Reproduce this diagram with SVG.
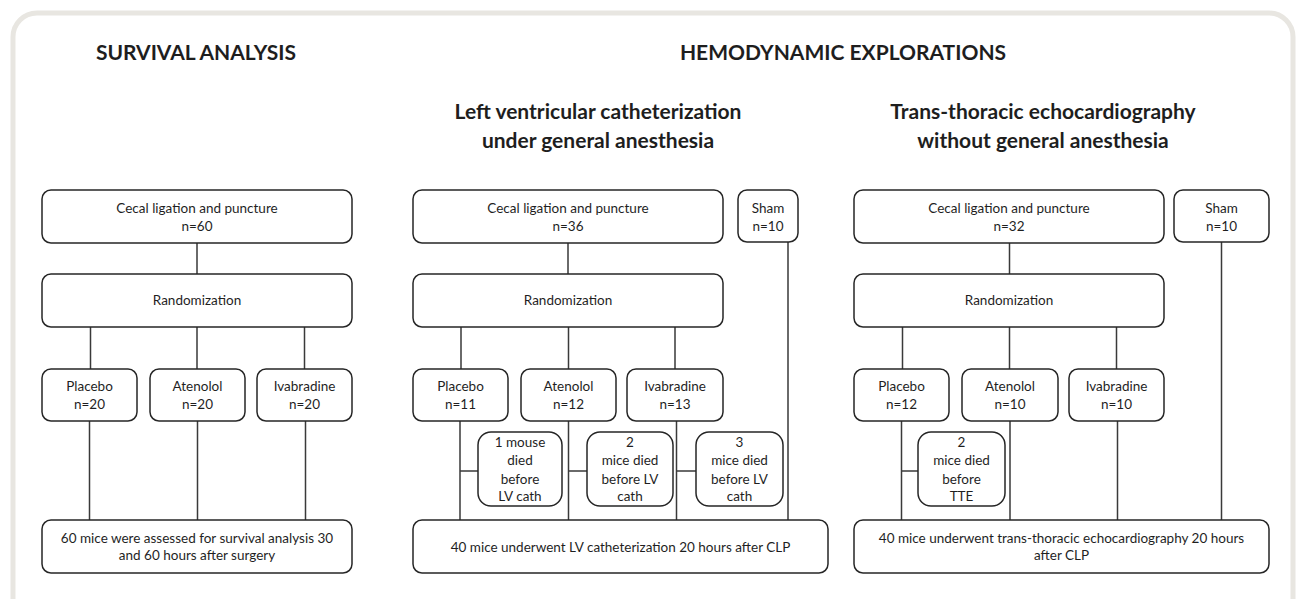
<svg xmlns="http://www.w3.org/2000/svg" width="1296" height="599" viewBox="0 0 1296 599">
<style>
.frame{fill:none;stroke:#e8e6e1;stroke-width:5}
.box{fill:#fff;stroke:#262626;stroke-width:1.5}
.ln{stroke:#3a3a3a;stroke-width:1.5;fill:none}
.t{font-family:Lato,"Open Sans",sans-serif;font-size:13.5px;fill:#1f1f1f;text-anchor:middle}
.h{font-family:Lato,"Open Sans",sans-serif;font-weight:bold;font-size:21px;fill:#1e1e1e;text-anchor:middle}
.s{font-family:Lato,"Open Sans",sans-serif;font-weight:bold;font-size:21px;fill:#1e1e1e;text-anchor:middle}
</style>
<rect width="1296" height="599" fill="#fff"/>
<rect class="frame" x="13" y="13" width="1280" height="640" rx="24"/>
<g id="titles">
<text class="h" x="196" y="60">SURVIVAL ANALYSIS</text>
<text class="h" x="843" y="60">HEMODYNAMIC EXPLORATIONS</text>
<text class="s" x="598" y="119">Left ventricular catheterization</text>
<text class="s" x="598" y="148">under general anesthesia</text>
<text class="s" x="1043" y="119">Trans-thoracic echocardiography</text>
<text class="s" x="1043" y="148">without general anesthesia</text>
</g>
<g id="connectors">
<path class="ln" d="M197 243V274M90.5 327V369M197 327V369M304.5 327V369M89.5 421V520M197.5 421V520M305.5 421V520"/>
<path class="ln" d="M568 243V274M461 327V369M568.5 327V369M675 327V369M460 421V520M568.5 421V520M676.5 421V520M788 242V520M460 471H478M568.5 471H587M676.5 471H696"/>
<path class="ln" d="M1009.5 243V274M902.5 327V369M1009.5 327V369M1116.5 327V369M901.5 421V520M1010 421V520M1117.5 421V520M1221.5 242V520M901.5 471H918"/>
</g>
<g id="p1-clp"><rect class="box" x="42" y="190" width="310" height="53" rx="9"/><text class="t" x="197" y="212.5">Cecal ligation and puncture</text><text class="t" x="197" y="230.5">n=60</text></g>
<g id="p1-rand"><rect class="box" x="42" y="274" width="310" height="53" rx="9"/><text class="t" x="197" y="305">Randomization</text></g>
<g id="p1-placebo"><rect class="box" x="42" y="369" width="95" height="52" rx="9"/><text class="t" x="89.5" y="391">Placebo</text><text class="t" x="89.5" y="408.5">n=20</text></g>
<g id="p1-atenolol"><rect class="box" x="150" y="369" width="95" height="52" rx="9"/><text class="t" x="197.5" y="391">Atenolol</text><text class="t" x="197.5" y="408.5">n=20</text></g>
<g id="p1-ivabradine"><rect class="box" x="257" y="369" width="95" height="52" rx="9"/><text class="t" x="304.5" y="391">Ivabradine</text><text class="t" x="304.5" y="408.5">n=20</text></g>
<g id="p1-final"><rect class="box" x="42" y="520" width="310" height="53" rx="9"/><text class="t" x="197" y="542.5">60 mice were assessed for survival analysis 30</text><text class="t" x="197" y="560">and 60 hours after surgery</text></g>

<g id="p2-clp"><rect class="box" x="413" y="190" width="310" height="53" rx="9"/><text class="t" x="568" y="212.5">Cecal ligation and puncture</text><text class="t" x="568" y="230.5">n=36</text></g>
<g id="p2-sham"><rect class="box" x="738" y="190" width="60" height="52" rx="9"/><text class="t" x="768" y="212.5">Sham</text><text class="t" x="768" y="230.5">n=10</text></g>
<g id="p2-rand"><rect class="box" x="413" y="274" width="310" height="53" rx="9"/><text class="t" x="568" y="305">Randomization</text></g>
<g id="p2-placebo"><rect class="box" x="413" y="369" width="95" height="52" rx="9"/><text class="t" x="460.5" y="391">Placebo</text><text class="t" x="460.5" y="408.5">n=11</text></g>
<g id="p2-atenolol"><rect class="box" x="521" y="369" width="95" height="52" rx="9"/><text class="t" x="568.5" y="391">Atenolol</text><text class="t" x="568.5" y="408.5">n=12</text></g>
<g id="p2-ivabradine"><rect class="box" x="627" y="369" width="96" height="52" rx="9"/><text class="t" x="675" y="391">Ivabradine</text><text class="t" x="675" y="408.5">n=13</text></g>
<g id="p2-died1"><rect class="box" x="478" y="432" width="84" height="74" rx="13"/><text class="t" x="520" y="447">1 mouse</text><text class="t" x="520" y="465">died</text><text class="t" x="520" y="483.5">before</text><text class="t" x="520" y="501">LV cath</text></g>
<g id="p2-died2"><rect class="box" x="587" y="432" width="86" height="74" rx="13"/><text class="t" x="630" y="447">2</text><text class="t" x="630" y="465">mice died</text><text class="t" x="630" y="483.5">before LV</text><text class="t" x="630" y="501">cath</text></g>
<g id="p2-died3"><rect class="box" x="696" y="432" width="87" height="74" rx="13"/><text class="t" x="739.5" y="447">3</text><text class="t" x="739.5" y="465">mice died</text><text class="t" x="739.5" y="483.5">before LV</text><text class="t" x="739.5" y="501">cath</text></g>
<g id="p2-final"><rect class="box" x="413" y="520" width="415" height="53" rx="9"/><text class="t" x="620.5" y="551.5">40 mice underwent LV catheterization 20 hours after CLP</text></g>

<g id="p3-clp"><rect class="box" x="854" y="190" width="310" height="53" rx="9"/><text class="t" x="1009" y="212.5">Cecal ligation and puncture</text><text class="t" x="1009" y="230.5">n=32</text></g>
<g id="p3-sham"><rect class="box" x="1174" y="190" width="95" height="52" rx="9"/><text class="t" x="1221.5" y="212.5">Sham</text><text class="t" x="1221.5" y="230.5">n=10</text></g>
<g id="p3-rand"><rect class="box" x="854" y="274" width="310" height="53" rx="9"/><text class="t" x="1009" y="305">Randomization</text></g>
<g id="p3-placebo"><rect class="box" x="854" y="369" width="95" height="52" rx="9"/><text class="t" x="901.5" y="391">Placebo</text><text class="t" x="901.5" y="408.5">n=12</text></g>
<g id="p3-atenolol"><rect class="box" x="962" y="369" width="96" height="52" rx="9"/><text class="t" x="1010" y="391">Atenolol</text><text class="t" x="1010" y="408.5">n=10</text></g>
<g id="p3-ivabradine"><rect class="box" x="1069" y="369" width="95" height="52" rx="9"/><text class="t" x="1116.5" y="391">Ivabradine</text><text class="t" x="1116.5" y="408.5">n=10</text></g>
<g id="p3-died"><rect class="box" x="918" y="432" width="87" height="74" rx="13"/><text class="t" x="961.5" y="447">2</text><text class="t" x="961.5" y="465">mice died</text><text class="t" x="961.5" y="483.5">before</text><text class="t" x="961.5" y="501">TTE</text></g>
<g id="p3-final"><rect class="box" x="854" y="520" width="415" height="53" rx="9"/><text class="t" x="1061.5" y="542.5">40 mice underwent trans-thoracic echocardiography 20 hours</text><text class="t" x="1061.5" y="560">after CLP</text></g>
</svg>
